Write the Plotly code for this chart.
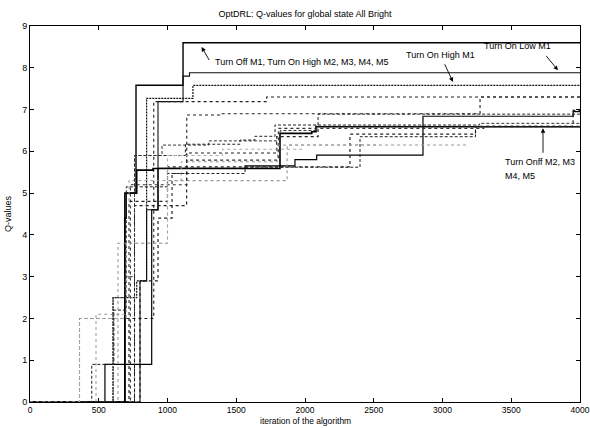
import plotly.graph_objects as go

# ---- data (iteration, Q-value) step points; each series holds its value until next step ----
x_turnoff = [0, 690, 700, 771, 1113]
y_turnoff = [0, 4.4, 5.0, 7.58, 8.6]

x_lowm1 = [0, 800, 848, 931, 1113, 1160]
y_lowm1 = [0, 2.9, 4.6, 7.19, 7.8, 7.88]

x_highm1 = [0, 604, 776, 848, 1185]
y_highm1 = [0, 2.5, 2.9, 7.27, 7.58]

x_s4 = [0, 360, 900, 1721]
y_s4 = [0, 2.0, 7.19, 7.3]

x_s5 = [0, 760, 1033, 1140, 1380, 3273]
y_s5 = [0, 4.7, 5.47, 6.87, 6.9, 7.3]

x_s6 = [0, 545, 885, 931, 1564, 1927, 2085, 2858, 3950]
y_s6 = [0, 0.9, 4.6, 5.59, 5.65, 5.8, 5.91, 6.84, 6.95]

x_s7 = [0, 690, 776, 895, 1818, 2049, 2080]
y_s7 = [0, 5.0, 5.55, 5.59, 6.43, 6.47, 6.59]

x_s8 = [0, 720, 1000, 2327, 3240]
y_s8 = [0, 4.8, 5.63, 6.41, 6.59]

x_s9 = [0, 640, 1000, 1870]
y_s9 = [0, 3.8, 5.3, 6.15]

x_s10 = [0, 730, 1140, 1806, 3300]
y_s10 = [0, 5.2, 5.79, 6.55, 6.6]

x_s11 = [0, 760, 1130, 1527, 1636, 1782, 2095]
y_s11 = [0, 5.9, 6.17, 6.27, 6.36, 6.63, 6.89]

x_s12 = [0, 480, 720, 1100, 1800]
y_s12 = [0, 2.1, 5.3, 5.75, 6.15]

x_s13 = [0, 449, 610, 700, 1000, 1564, 2400, 3240]
y_s13 = [0, 0.9, 2.2, 5.15, 5.47, 5.62, 6.35, 6.59]

x_s14 = [0, 604, 690, 760, 960, 1300, 1820, 2080, 3270]
y_s14 = [0, 2.5, 3.0, 5.9, 6.15, 6.25, 6.5, 6.63, 6.67]

x_s15 = [0, 800, 931, 1033, 1139, 1794, 2095, 3950]
y_s15 = [0, 2.9, 4.4, 4.7, 5.96, 6.35, 6.6, 6.98]

x_s16 = [0, 360, 700, 1000, 1400]
y_s16 = [0, 2.0, 3.8, 5.9, 6.05]

# last iteration reached by each series
end_iter = [4000, 4000, 4000, 4000, 4000, 4000, 4000, 4000, 3180,
            4000, 4000, 2545, 4000, 4000, 4000, 2000]

x_ticks = [0, 500, 1000, 1500, 2000, 2500, 3000, 3500, 4000]
y_ticks = [0, 1, 2, 3, 4, 5, 6, 7, 8, 9]

title_text = "OptDRL: Q-values for global state All Bright"
x_title = "iteration of the algorithm"
y_title = "Q-values"

SHORTDASH = "3px,2px"
DENSE = "2px,1px"

series = [
    (x_turnoff, y_turnoff, "solid", "#000000", 1.4),
    (x_lowm1, y_lowm1, "solid", "#111111", 1.1),
    (x_highm1, y_highm1, DENSE, "#111111", 1.2),
    (x_s4, y_s4, "dot", "#222222", 1.1),
    (x_s5, y_s5, "dot", "#222222", 1.1),
    (x_s6, y_s6, "solid", "#000000", 1.2),
    (x_s7, y_s7, "solid", "#000000", 1.6),
    (x_s8, y_s8, "dot", "#222222", 1.2),
    (x_s9, y_s9, "dot", "#999999", 1.1),
    (x_s10, y_s10, "dot", "#333333", 1.1),
    (x_s11, y_s11, SHORTDASH, "#222222", 1.0),
    (x_s12, y_s12, "dot", "#999999", 1.0),
    (x_s13, y_s13, SHORTDASH, "#222222", 1.0),
    (x_s14, y_s14, SHORTDASH, "#333333", 1.0),
    (x_s15, y_s15, "dot", "#222222", 1.2),
    (x_s16, y_s16, "dot", "#aaaaaa", 1.0),
]

fig = go.Figure()
for (xs, ys, dash, col, w), xe in zip(series, end_iter):
    fig.add_trace(go.Scatter(
        x=list(xs) + [xe], y=list(ys) + [ys[-1]],
        mode="lines", line=dict(shape="hv", dash=dash, color=col, width=w),
        showlegend=False, hoverinfo="skip"))

font_main = "Liberation Sans Narrow, Liberation Sans, Arial, sans-serif"

ann = []
def label(x, y, text, xanchor="left"):
    ann.append(dict(x=x, y=y, xref="x", yref="y", text=text, showarrow=False,
                    xanchor=xanchor, yanchor="middle",
                    font=dict(family="Liberation Sans, Arial", size=9, color="black")))

def arrow(x0, y0, x1, y1):
    ann.append(dict(x=x1, y=y1, ax=x0, ay=y0, xref="x", yref="y", axref="x", ayref="y",
                    text="", showarrow=True, arrowhead=2, arrowsize=1.0,
                    arrowwidth=0.9, arrowcolor="black"))

label(1330, 8.13, "Turn Off M1, Turn On High M2, M3, M4, M5")
arrow(1309, 8.15, 1248, 8.5)
label(2982, 8.30, "Turn On High M1", xanchor="center")
arrow(3011, 8.12, 3076, 7.66)
label(3542, 8.52, "Turn On Low M1", xanchor="center")
arrow(3745, 8.32, 3840, 7.94)
label(3440, 5.75, "Turn Onff M2, M3")
label(3440, 5.40, "M4, M5")
arrow(3731, 5.93, 3731, 6.55)

ann.append(dict(x=0.5, y=-0.05, xref="paper", yref="paper", text=x_title, showarrow=False,
                xanchor="center", yanchor="middle",
                font=dict(family=font_main, size=8.5, color="black")))
ann.append(dict(x=-0.04, y=0.5, xref="paper", yref="paper", text=y_title, showarrow=False,
                textangle=-90, xanchor="center", yanchor="middle",
                font=dict(family=font_main, size=9, color="black")))

fig.update_layout(
    width=590, height=428,
    margin=dict(l=30, r=10, t=26, b=26),
    paper_bgcolor="white", plot_bgcolor="white",
    title=dict(text=title_text, x=0.5, xref="paper", y=0.967, yref="container",
               xanchor="center", yanchor="middle",
               font=dict(family=font_main, size=9, color="black")),
    annotations=ann,
    font=dict(family=font_main, size=9, color="black"),
)
fig.update_xaxes(range=[0, 4000], tickvals=x_ticks, ticktext=[str(v) for v in x_ticks],
                 ticks="inside", ticklen=4, tickcolor="black", showline=True, linecolor="black",
                 linewidth=1, mirror="ticks", showgrid=False, zeroline=False,
                 tickfont=dict(size=8.5), automargin=False, ticklabeloverflow="allow")
fig.update_yaxes(range=[0, 9], tickvals=y_ticks, ticktext=[str(v) for v in y_ticks],
                 ticks="inside", ticklen=4, tickcolor="black", showline=True, linecolor="black",
                 linewidth=1, mirror="ticks", showgrid=False, zeroline=False,
                 tickfont=dict(size=9), automargin=False, ticklabeloverflow="allow")

fig.write_html("out.html", config={"displayModeBar": False},
               post_script="document.body.style.margin='0';document.body.style.padding='0';")
